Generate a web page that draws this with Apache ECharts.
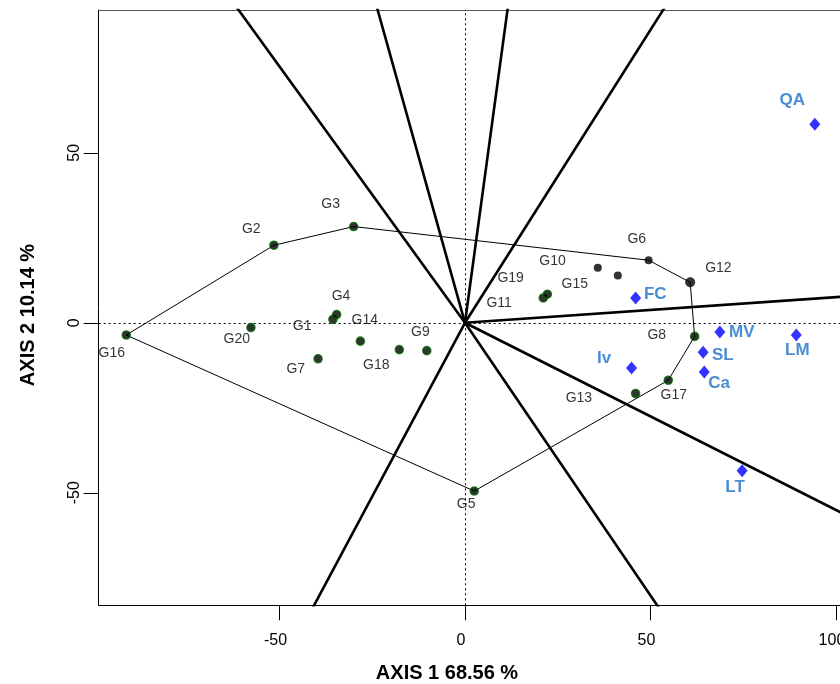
<!DOCTYPE html>
<html><head><meta charset="utf-8">
<script src="https://cdn.jsdelivr.net/npm/echarts@6/dist/echarts.min.js"></script>
<style>html,body{margin:0;padding:0;background:#fff;overflow:hidden}#c{width:840px;height:684px}</style>
</head><body><div id="c"></div>
<script>
// ---- data ----
const genoNames = ['G1','G2','G3','G4','G5','G6','G7','G8','G9','G10','G11','G12','G13','G14','G15','G16','G17','G18','G19','G20'];
const genoX = [-35.6,-51.5,-30.0,-34.6,2.5,49.5,-39.6,61.9,-10.3,35.8,21.1,60.7,46.0,-28.2,41.2,-91.3,54.8,-17.7,22.2,-57.7];
const genoY = [1.0,22.8,28.3,2.4,-49.5,18.4,-10.6,-4.0,-8.2,16.2,7.3,11.9,-20.8,-5.4,13.9,-3.6,-16.9,-7.9,8.4,-1.4];
const genoLabelX = [-43.9,-57.6,-36.2,-33.4,0.3,46.3,-45.6,51.7,-12.0,23.6,9.2,68.3,30.7,-27.0,29.6,-95.2,56.3,-23.9,12.3,-61.5];
const genoLabelY = [-0.9,27.5,34.9,7.9,-53.4,24.7,-13.6,-3.6,-2.7,18.1,5.9,16.2,-22.2,0.8,11.4,-9.0,-21.4,-12.4,13.1,-4.7];

const envNames = ['FC','Iv','MV','SL','Ca','LM','LT','QA'];
const envX = [46.0,44.9,68.7,64.2,64.5,89.3,74.7,94.3];
const envY = [7.3,-13.3,-2.7,-8.7,-14.5,-3.6,-43.5,58.4];
const envLabelX = [51.3,37.5,74.6,69.5,68.5,89.6,72.8,88.2];
const envLabelY = [8.4,-10.4,-2.7,-9.5,-17.8,-8.0,-48.5,65.3];

const hullOrder = ['G16','G2','G3','G6','G12','G8','G17','G5'];
const plainGenos = ['G6','G10','G15'];
const bigGenos = ['G12'];

const xTicks = [-50,0,50,100];
const yTicks = [-50,0,50];
const xTitle = 'AXIS 1 68.56 %';
const yTitle = 'AXIS 2 10.14 %';

// ---- build ----
const FONT = 'Liberation Sans, Arial, sans-serif';
const XMIN = -98.73, XMAX = 103, YMIN = -83.1, YMAX = 92.0;
const gi = n => genoNames.indexOf(n);
const hullPts = hullOrder.map(n => [genoX[gi(n)], genoY[gi(n)]]);
const hullData = hullPts.concat([hullPts[0]]);

// rays: perpendicular from origin to each hull edge (outward normal)
const raySeries = [];
for (let i = 0; i < hullPts.length; i++) {
  const a = hullPts[i], b = hullPts[(i + 1) % hullPts.length];
  const dx = b[0] - a[0], dy = b[1] - a[1];
  const nx = -dy, ny = dx, len = Math.hypot(nx, ny);
  raySeries.push({
    type: 'line', data: [[0, 0], [nx / len * 400, ny / len * 400]],
    showSymbol: false, silent: true, clip: true, z: 3,
    lineStyle: {color: '#000', width: 2.6}
  });
}

const genoData = genoNames.map((n, i) => {
  const plain = plainGenos.includes(n), big = bigGenos.includes(n);
  return {
    name: n, value: [genoX[i], genoY[i]],
    symbolSize: big ? 10 : 8,
    itemStyle: {color: '#000', borderColor: plain || big ? '#000' : '#006400', borderWidth: plain || big ? 0 : 1.6}
  };
});
const genoLabelData = genoNames.map((n, i) => ({name: n, value: [genoLabelX[i], genoLabelY[i]]}));
const envData = envNames.map((n, i) => ({name: n, value: [envX[i], envY[i]]}));
const envLabelData = envNames.map((n, i) => ({name: n, value: [envLabelX[i], envLabelY[i]]}));

const chart = echarts.init(document.getElementById('c'), null, {renderer: 'canvas', width: 840, height: 684});
chart.setOption({
  animation: false,
  backgroundColor: '#fff',
  grid: {left: 98.7, top: 10, bottom: 78.7, right: -7.1, containLabel: false, outerBoundsMode: 'none'},
  xAxis: [{
    type: 'value', min: XMIN, max: XMAX, position: 'bottom',
    axisLine: {show: true, onZero: false, lineStyle: {color: '#000', width: 1}},
    axisTick: {show: true, customValues: xTicks, length: 15, lineStyle: {color: '#000', width: 1}},
    axisLabel: {show: true, customValues: xTicks, margin: 27, fontSize: 16, color: '#000', fontFamily: FONT, padding: [0, 8, 0, 0]},
    splitLine: {show: false}
  }, {
    type: 'value', min: XMIN, max: XMAX, position: 'top',
    axisLine: {show: true, onZero: false, lineStyle: {color: '#555', width: 1}},
    axisTick: {show: false}, axisLabel: {show: false}, splitLine: {show: false}
  }],
  yAxis: [{
    type: 'value', min: YMIN, max: YMAX, position: 'left',
    axisLine: {show: true, onZero: false, lineStyle: {color: '#000', width: 1}},
    axisTick: {show: true, customValues: yTicks, length: 15, lineStyle: {color: '#000', width: 1}},
    axisLabel: {show: true, customValues: yTicks, rotate: 90, margin: 16, fontSize: 16, color: '#000', fontFamily: FONT},
    splitLine: {show: false}
  }],
  graphic: [
    {type: 'text', x: 447, y: 673, silent: true,
     style: {text: xTitle, font: 'bold 20px ' + FONT, fill: '#000', textAlign: 'center', textVerticalAlign: 'middle'}},
    {type: 'text', x: 28, y: 315, rotation: Math.PI / 2, silent: true,
     style: {text: yTitle, font: 'bold 20px ' + FONT, fill: '#000', textAlign: 'center', textVerticalAlign: 'middle'}}
  ],
  series: [
    {type: 'line', data: [], silent: true, z: 1,
     markLine: {silent: true, symbol: ['none', 'none'], label: {show: false},
       lineStyle: {color: '#000', width: 1, type: [2, 3]},
       data: [{xAxis: 0}, {yAxis: 0}]}},
    {type: 'line', data: hullData, showSymbol: false, silent: true, z: 2,
     lineStyle: {color: '#000', width: 1}},
    ...raySeries,
    {type: 'scatter', data: genoData, symbol: 'circle', z: 5, silent: true},
    {type: 'scatter', data: genoLabelData, symbolSize: 1, itemStyle: {color: 'rgba(0,0,0,0)'}, z: 6, silent: true,
     label: {show: true, position: 'inside', formatter: p => p.name, fontSize: 14, color: '#000', fontFamily: FONT}},
    {type: 'scatter', data: envData, symbol: 'diamond', symbolSize: [11, 13], itemStyle: {color: '#0000FF'}, z: 5, silent: true},
    {type: 'scatter', data: envLabelData, symbolSize: 1, itemStyle: {color: 'rgba(0,0,0,0)'}, z: 6, silent: true,
     label: {show: true, position: 'inside', formatter: p => p.name, fontSize: 17, fontWeight: 'bold', color: '#1a70c8', fontFamily: FONT}}
  ]
});
</script>
</body></html>
